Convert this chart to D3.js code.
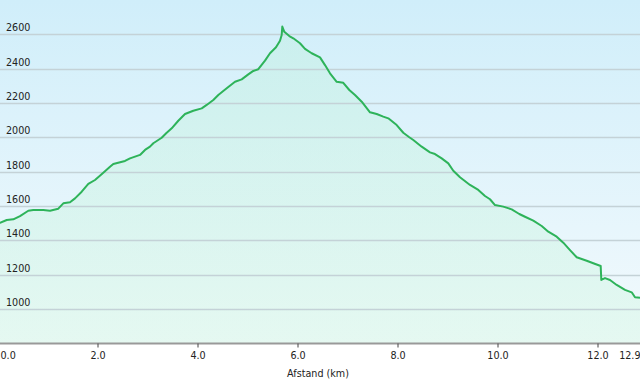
<!DOCTYPE html>
<html>
<head>
<meta charset="utf-8">
<script src="https://cdn.jsdelivr.net/npm/d3@7"></script>
<style>
  html, body { margin: 0; padding: 0; background: #ffffff; }
  svg { display: block; }
  text { font-family: "DejaVu Sans", Verdana, sans-serif; }
</style>
</head>
<body>
<div id="chart"></div>
<script>
const distanceKm = [0, 0.05, 0.184, 0.316, 0.45, 0.616, 0.716, 0.916, 1.05, 1.216, 1.316, 1.45, 1.55, 1.684, 1.816, 1.95,
  2.116, 2.25, 2.316, 2.55, 2.65, 2.85, 2.95, 3.05, 3.116, 3.284, 3.384, 3.484, 3.616, 3.75, 3.916, 4.084, 4.184,
  4.316, 4.416, 4.584, 4.75, 4.884, 5.016, 5.116, 5.216, 5.35, 5.45, 5.57, 5.65, 5.684, 5.696, 5.736, 5.836, 5.916,
  6.05, 6.15, 6.284, 6.45, 6.55, 6.65, 6.784, 6.916, 7.036, 7.15, 7.284, 7.45, 7.584, 7.716, 7.816, 7.984, 8.116,
  8.236, 8.316, 8.484, 8.65, 8.75, 8.884, 9.016, 9.116, 9.25, 9.45, 9.616, 9.75, 9.85, 9.95, 10.116, 10.284, 10.436,
  10.55, 10.716, 10.884, 11.016, 11.184, 11.316, 11.45, 11.584, 11.784, 11.916, 12.064, 12.076, 12.15, 12.25, 12.384,
  12.55, 12.684, 12.75, 12.85];
const elevationM = [1497, 1503, 1519, 1523, 1542, 1573, 1577, 1577, 1573, 1585, 1616, 1622, 1645, 1684, 1729, 1752,
  1794, 1829, 1845, 1863, 1878, 1898, 1927, 1946, 1966, 1998, 2027, 2053, 2097, 2136, 2155, 2169, 2189,
  2218, 2247, 2286, 2324, 2338, 2367, 2387, 2397, 2447, 2490, 2525, 2563, 2596, 2645, 2615, 2590, 2577,
  2548, 2515, 2490, 2466, 2421, 2373, 2324, 2318, 2276, 2247, 2208, 2146, 2136, 2121, 2111, 2072, 2027,
  2001, 1985, 1946, 1913, 1903, 1878, 1849, 1806, 1768, 1723, 1694, 1659, 1640, 1606, 1597, 1581, 1554,
  1538, 1515, 1484, 1451, 1422, 1387, 1344, 1302, 1282, 1267, 1251, 1170, 1181, 1170, 1141,
  1112, 1098, 1069, 1067];
const yTicks = [1000, 1200, 1400, 1600, 1800, 2000, 2200, 2400, 2600];
const xTicks = [0, 2, 4, 6, 8, 10, 12, 12.85];
const xTickLabels = ["0.0", "2.0", "4.0", "6.0", "8.0", "10.0", "12.0", "12.9"];
const xTitle = "Afstand  (km)";

const W = 640, H = 382;
const plotBottom = 343.5;
const x = d3.scaleLinear().domain([0, 12.85]).range([-2.5, 640]);
const y = d3.scaleLinear().domain([800, 2800]).range([plotBottom, 0]);

const svg = d3.select("#chart").append("svg").attr("width", W).attr("height", H);
const defs = svg.append("defs");
const bg = defs.append("linearGradient").attr("id", "bg").attr("x1", 0).attr("y1", 0).attr("x2", 0).attr("y2", 1);
bg.append("stop").attr("offset", "0%").attr("stop-color", "#d0eefa");
bg.append("stop").attr("offset", "100%").attr("stop-color", "#f3fafd");
const fg = defs.append("linearGradient").attr("id", "fill").attr("gradientUnits", "userSpaceOnUse")
  .attr("x1", 0).attr("y1", 0).attr("x2", 0).attr("y2", plotBottom);
fg.append("stop").attr("offset", "0%").attr("stop-color", "#a8f0c0").attr("stop-opacity", 0.2);
fg.append("stop").attr("offset", "100%").attr("stop-color", "#c0f5d2").attr("stop-opacity", 0.28);

svg.append("rect").attr("x", 0).attr("y", 0).attr("width", W).attr("height", plotBottom).attr("fill", "url(#bg)");

const data = distanceKm.map((d, i) => [d, elevationM[i]]);
svg.append("path").datum(data)
  .attr("fill", "url(#fill)")
  .attr("d", d3.area().x(d => x(d[0])).y0(plotBottom).y1(d => y(d[1])));

// gridlines
svg.append("g").selectAll("line").data(yTicks).join("line")
  .attr("x1", 0).attr("x2", W)
  .attr("y1", d => Math.round(y(d)) + 0.5).attr("y2", d => Math.round(y(d)) + 0.5)
  .attr("stroke", "#c4d2d7").attr("stroke-width", 1.6);

svg.append("g").selectAll("text").data(yTicks).join("text")
  .attr("x", 6).attr("y", d => y(d) - 3)
  .attr("font-size", "9.6px").attr("fill", "#222")
  .text(d => d);

svg.append("path").datum(data)
  .attr("fill", "none").attr("stroke", "#2eb35a").attr("stroke-width", 2)
  .attr("stroke-linejoin", "round")
  .attr("d", d3.line().x(d => x(d[0])).y(d => y(d[1])));

// x axis
const xAxis = d3.axisBottom(x).tickValues(xTicks).tickSize(4).tickSizeOuter(0)
  .tickFormat((d, i) => xTickLabels[i]);
const gx = svg.append("g").attr("transform", `translate(0,${plotBottom})`).call(xAxis);
gx.select(".domain").attr("stroke", "#999").attr("stroke-width", 2).attr("d", `M0,0H${W}`);
gx.selectAll(".tick line").attr("stroke", "#444");
gx.selectAll(".tick text").attr("font-size", "9.6px").attr("fill", "#222")
  .attr("font-family", "DejaVu Sans, Verdana, sans-serif").attr("dy", "0.9em")
  .attr("text-anchor", (d, i) => i === 0 ? "start" : (i === xTicks.length - 1 ? "end" : "middle"))
  .attr("dx", (d, i) => i === 0 ? 2.5 : 0);

svg.append("text").attr("x", 318).attr("y", 377).attr("text-anchor", "middle")
  .attr("font-size", "9.6px").attr("fill", "#222").text(xTitle);
</script>
</body>
</html>
